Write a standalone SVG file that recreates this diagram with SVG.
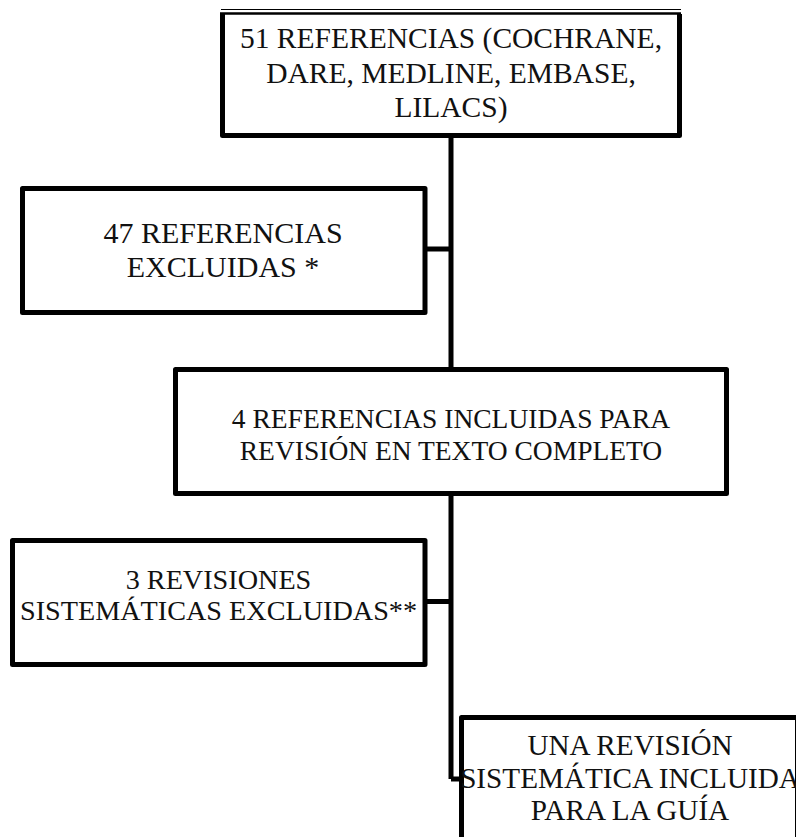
<svg xmlns="http://www.w3.org/2000/svg" width="796" height="837" viewBox="0 0 796 837">
<style>
.box{fill:#fff;stroke:#000;stroke-width:5;stroke-linejoin:round}
.edge{fill:none;stroke:#000;stroke-width:5;stroke-linejoin:round}
.t{font-family:"Liberation Serif","Times New Roman",serif;fill:#111;text-anchor:middle}
</style>
<rect width="796" height="837" fill="#fff"/>
<g id="connectors">
<line class="edge" x1="451" y1="135" x2="451" y2="370"/>
<line class="edge" x1="425" y1="249" x2="451" y2="249"/>
<line class="edge" x1="451" y1="494" x2="451" y2="779"/>
<line class="edge" x1="425" y1="601.5" x2="451" y2="601.5"/>
<path class="edge" d="M451,779 L461.5,779"/>
</g>
<g id="n1">
<rect x="222.5" y="13.5" width="457" height="122" fill="#fff"/>
<path class="edge" d="M222.5,14 L222.5,135.5 L679.5,135.5 L679.5,14"/>
<line x1="220" y1="13.5" x2="681" y2="13.5" stroke="#000" stroke-width="2.5"/>
<line x1="221" y1="9.5" x2="681" y2="9.5" stroke="#000" stroke-width="1.2"/>
<text class="t" font-size="29.5" x="451" y="48">51 REFERENCIAS (COCHRANE,</text>
<text class="t" font-size="29.5" x="451" y="83">DARE, MEDLINE, EMBASE,</text>
<text class="t" font-size="29.5" x="451" y="117">LILACS)</text>
</g>
<g id="n2">
<rect class="box" x="22.5" y="188.5" width="402.5" height="124"/>
<text class="t" font-size="30" x="223" y="243">47 REFERENCIAS</text>
<text class="t" font-size="30" x="223" y="277">EXCLUIDAS *</text>
</g>
<g id="n3">
<rect class="box" x="175.5" y="369.5" width="551" height="124"/>
<text class="t" font-size="27.5" x="451" y="428">4 REFERENCIAS INCLUIDAS PARA</text>
<text class="t" font-size="27.5" x="451" y="460">REVISIÓN EN TEXTO COMPLETO</text>
</g>
<g id="n4">
<rect class="box" x="12.5" y="540.5" width="412.5" height="124"/>
<text class="t" font-size="28.2" x="218.5" y="589">3 REVISIONES</text>
<text class="t" font-size="28.2" x="218.5" y="620">SISTEMÁTICAS EXCLUIDAS**</text>
</g>
<g id="n5">
<rect class="box" x="461.5" y="717.5" width="336" height="140"/>
<text class="t" font-size="29.2" x="630" y="755">UNA REVISIÓN</text>
<text class="t" font-size="29.2" x="630" y="788">SISTEMÁTICA INCLUIDA</text>
<text class="t" font-size="29.2" x="630" y="820">PARA LA GUÍA</text>
</g>
</svg>
